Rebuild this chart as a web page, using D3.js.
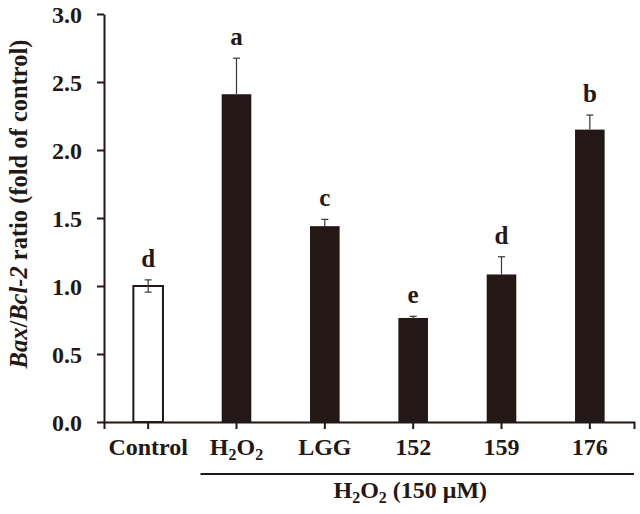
<!DOCTYPE html>
<html lang="en">
<head>
    <meta charset="UTF-8">
    <title>Bax/Bcl-2 ratio</title>
    <style>
        body { margin: 0; background: #fff; }
        svg text { font-family: "Liberation Serif", "Times New Roman", serif; font-weight: bold; fill: #231815; }
    </style>
</head>
<body>
    <div id="chart"></div>
    <script src="https://d3js.org/d3.v7.min.js"></script>
    <script>
        // data
        const groups = ["Control", "H2O2", "LGG", "152", "159", "176"];
        const ratio = [1.00, 2.41, 1.44, 0.765, 1.085, 2.15];
        const errors = [0.045, 0.265, 0.05, 0.012, 0.13, 0.107];
        const letters = ["d", "a", "c", "e", "d", "b"];
        const yTicks = [0, 0.5, 1.0, 1.5, 2.0, 2.5, 3.0];

        const W = 640, H = 514;
        const margin = {top: 14, right: 6, bottom: 92, left: 104};
        const width = W - margin.left - margin.right;
        const height = H - margin.top - margin.bottom;
        const ink = "#231815";

        const svg = d3.select("#chart").append("svg")
            .attr("width", W).attr("height", H);
        const g = svg.append("g")
            .attr("transform", `translate(${margin.left},${margin.top})`);

        const x = d3.scaleBand().domain(groups).range([0, width])
            .paddingInner(0.665).paddingOuter(0.3325);
        const y = d3.scaleLinear().domain([0, 3]).range([height, 0]);

        // bars
        g.selectAll(".bar").data(groups).join("rect")
            .attr("x", d => x(d))
            .attr("y", (d, i) => y(ratio[i]))
            .attr("width", x.bandwidth())
            .attr("height", (d, i) => y(0) - y(ratio[i]))
            .attr("fill", (d, i) => i === 0 ? "#fff" : ink)
            .attr("stroke", ink)
            .attr("stroke-width", (d, i) => i === 0 ? 2 : 0);

        // error bars
        const cx = d => x(d) + x.bandwidth() / 2;
        const eb = g.selectAll(".err").data(groups).join("g").attr("stroke", "#3a3434").attr("stroke-width", 1.2);
        eb.append("line")
            .attr("x1", d => cx(d)).attr("x2", d => cx(d))
            .attr("y1", (d, i) => y(ratio[i] - errors[i]))
            .attr("y2", (d, i) => y(ratio[i] + errors[i]));
        eb.append("line")
            .attr("x1", d => cx(d) - 3.5).attr("x2", d => cx(d) + 3.5)
            .attr("y1", (d, i) => y(ratio[i] + errors[i]))
            .attr("y2", (d, i) => y(ratio[i] + errors[i]));
        eb.append("line")
            .attr("x1", d => cx(d) - 3.5).attr("x2", d => cx(d) + 3.5)
            .attr("y1", (d, i) => y(ratio[i] - errors[i]))
            .attr("y2", (d, i) => y(ratio[i] - errors[i]))
            .attr("stroke", (d, i) => i === 0 ? "#3a3434" : ink);
        eb.filter((d, i) => i > 0).select("line").attr("y1", (d, i) => y(ratio[i + 1]));

        // significance letters
        g.selectAll(".lbl").data(groups).join("text")
            .attr("x", d => cx(d))
            .attr("y", (d, i) => y(ratio[i] + errors[i]) - 13)
            .attr("text-anchor", "middle")
            .style("font-size", "25px")
            .text((d, i) => letters[i]);

        // y axis
        const yAxis = g.append("g")
            .call(d3.axisLeft(y).tickValues(yTicks).tickFormat(d3.format(".1f")).tickSize(7).tickSizeOuter(0));
        yAxis.select(".domain").attr("stroke", ink).attr("stroke-width", 2);
        yAxis.selectAll(".tick line").attr("stroke", ink).attr("stroke-width", 2);
        yAxis.selectAll(".tick text").attr("x", -22).attr("dy", "0.34em")
            .style("font-size", "24px").attr("fill", ink);

        // x axis
        const xAxis = g.append("g").attr("transform", `translate(0,${height})`)
            .call(d3.axisBottom(x).tickSize(7).tickSizeOuter(7));
        xAxis.select(".domain").attr("stroke", ink).attr("stroke-width", 2);
        xAxis.selectAll(".tick line").attr("stroke", ink).attr("stroke-width", 2);
        xAxis.selectAll(".tick text").remove();
        xAxis.selectAll(".tick").append("text")
            .attr("y", 33)
            .attr("text-anchor", "middle")
            .style("font-size", "24px")
            .each(function(d) {
                const t = d3.select(this);
                if (d === "H2O2") {
                    t.append("tspan").text("H");
                    t.append("tspan").text("2").attr("dy", 5).style("font-size", "16px");
                    t.append("tspan").text("O").attr("dy", -5);
                    t.append("tspan").text("2").attr("dy", 5).style("font-size", "16px");
                } else {
                    t.text(d);
                }
            });

        // treatment bracket
        const x0 = x("H2O2") + x.bandwidth() / 2 - 36;
        g.append("line")
            .attr("x1", x0).attr("x2", width)
            .attr("y1", height + 52).attr("y2", height + 52)
            .attr("stroke", ink).attr("stroke-width", 2);
        const br = g.append("text")
            .attr("x", (x0 + width) / 2 - 7)
            .attr("y", height + 76)
            .attr("text-anchor", "middle")
            .style("font-size", "24px");
        br.append("tspan").text("H");
        br.append("tspan").text("2").attr("dy", 5).style("font-size", "16px");
        br.append("tspan").text("O").attr("dy", -5);
        br.append("tspan").text("2").attr("dy", 5).style("font-size", "16px");
        br.append("tspan").text(" (150 μM)").attr("dy", -5);

        // y title
        const yt = svg.append("text")
            .attr("transform", `translate(27,${margin.top + 190}) rotate(-90)`)
            .attr("text-anchor", "middle")
            .style("font-size", "24.5px");
        yt.append("tspan").text("Bax").style("font-style", "italic");
        yt.append("tspan").text("/");
        yt.append("tspan").text("Bcl-2").style("font-style", "italic");
        yt.append("tspan").text(" ratio (fold of control)");
    </script>
</body>
</html>
